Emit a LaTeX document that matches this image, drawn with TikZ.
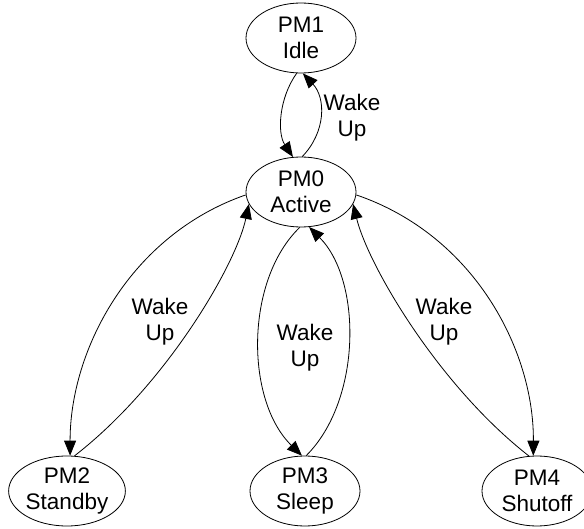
\documentclass[tikz,border=0pt]{standalone}
\usepackage{fontspec}
\setmainfont{Liberation Sans}
\usetikzlibrary{arrows.meta,shapes.geometric}
\tikzset{
  state/.style={draw, ellipse, line width=0.8pt, minimum width=110pt, minimum height=70pt, inner sep=0pt, align=center, font=\fontsize{22.5}{26}\selectfont},
  lbl/.style={align=center, inner sep=0pt, font=\fontsize{22.5}{26}\selectfont},
  edge/.style={draw, line width=0.8pt, -{Triangle[length=15pt,width=12pt]}}
}
\begin{document}
\begin{tikzpicture}[x=1pt,y=-1pt]
\useasboundingbox (0,0) rectangle (584,529);
\node[state] (pm1) at (301,38) {PM1\\Idle};
\node[state] (pm0) at (301,192) {PM0\\Active};
\node[state] (pm2) at (67,491) {PM2\\Standby};
\node[state] (pm3) at (305,491) {PM3\\Sleep};
\node[state] (pm4) at (537,491) {PM4\\Shutoff};
% PM1 <-> PM0
\draw[edge] (pm1.263) .. controls (279,98) and (277,133) .. (pm0.103);
\draw[edge] (pm0.88) .. controls (326,132) and (326,98) .. (pm1.273);
\node[lbl] (l1) at (352,118) {Wake\\Up};
% PM0 <-> PM2
\draw[edge] (pm0.183) .. controls (130,235) and (70,350) .. (pm2.85);
\draw[edge] (pm2.78) .. controls (166,385) and (236,265) .. (pm0.193);
\node[lbl] (l2) at (160,322) {Wake\\Up};
% PM0 <-> PM3
\draw[edge] (pm0.268) .. controls (245,280) and (245,400) .. (pm3.95);
\draw[edge] (pm3.88) .. controls (362,400) and (362,280) .. (pm0.283);
\node[lbl] (l3) at (305,348) {Wake\\Up};
% PM0 <-> PM4
\draw[edge] (pm0.357) .. controls (474,235) and (534,350) .. (pm4.96);
\draw[edge] (pm4.103) .. controls (438,385) and (368,265) .. (pm0.347);
\node[lbl] (l4) at (444,322) {Wake\\Up};
\end{tikzpicture}
\end{document}
